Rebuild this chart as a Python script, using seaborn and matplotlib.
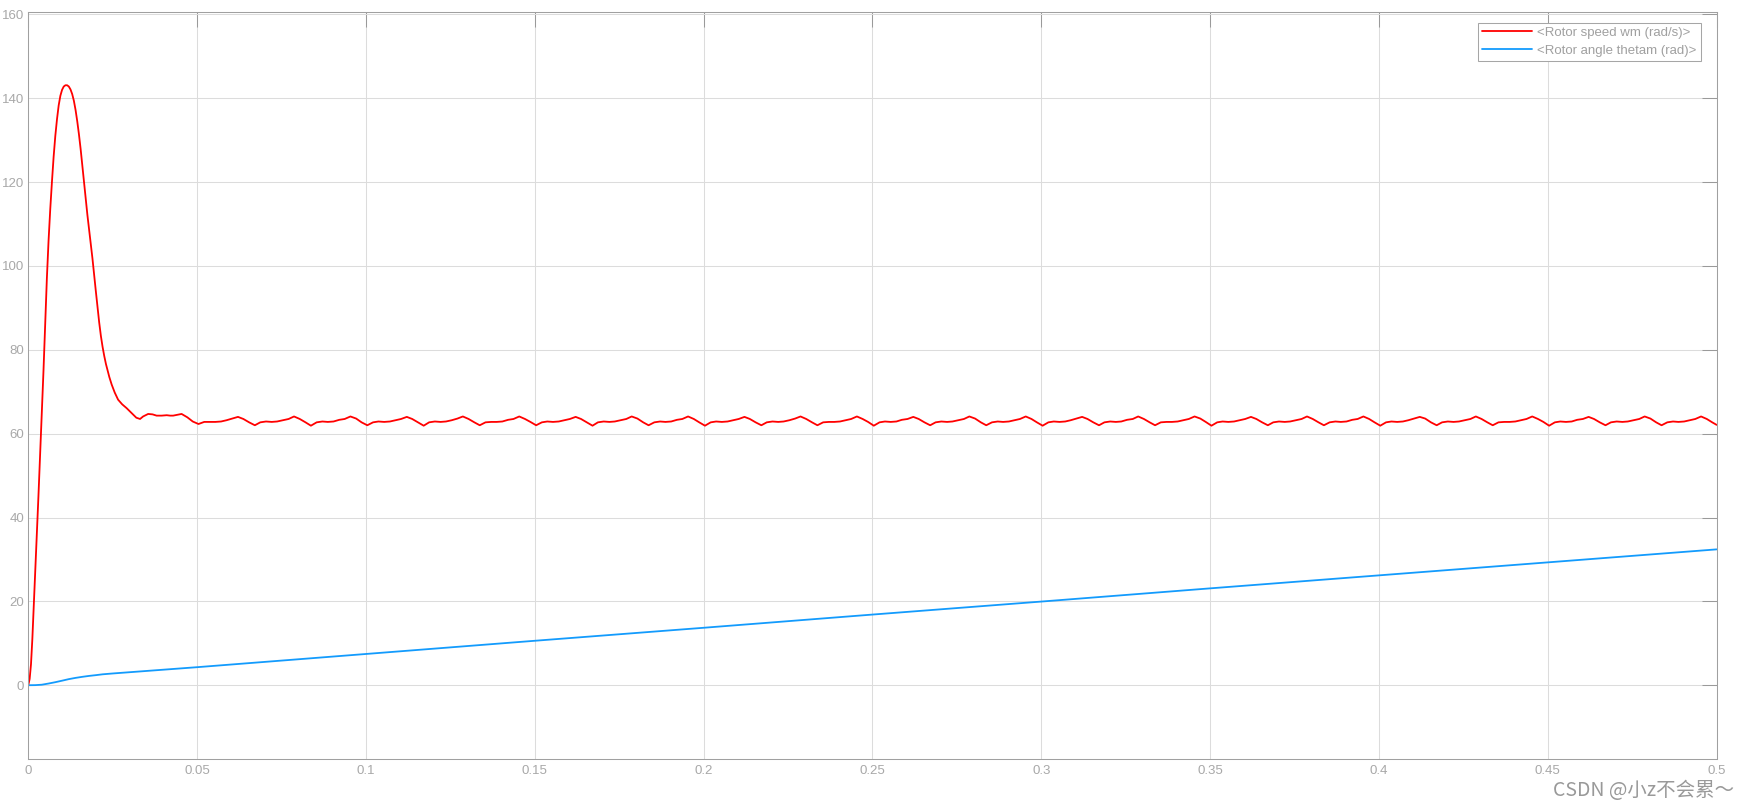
import matplotlib
matplotlib.use("Agg")
import matplotlib.pyplot as plt
import seaborn as sns
import pandas as pd

# rotor speed, start-up transient (time in ms, speed in rad/s)
t_start_ms = [0, 0.4, 0.8, 1.2, 1.6, 2.0, 2.5, 3.0, 3.5, 4.0, 4.5, 5.0, 5.5, 6.0, 6.5,
              7.0, 7.5, 8.0, 8.5, 9.0, 9.5, 10.0, 10.5, 11.0, 11.5, 12.0, 12.5, 13.0,
              13.5, 14.0, 14.5, 15.0, 15.5, 16.0, 16.5, 17.0, 17.5, 18.0, 18.5, 19.0,
              19.5, 20.0, 20.5, 21.0, 21.5, 22.0, 22.5, 23.0, 23.5, 24.0, 24.7, 25.6,
              26.6, 27.8, 29.1, 30.1, 31.1, 32.0, 33.1, 34.0, 35.5, 36.8, 38.0, 39.5,
              41.0, 42.0, 42.9, 44.2]
w_start = [0, 1.5, 5, 11, 18.5, 26, 35, 45, 55, 65, 75, 86, 97, 106, 113.5,
           120, 126, 131, 135, 138.3, 140.6, 142.0, 142.8, 143.1, 143.1, 142.8, 142.1, 141.0,
           139.4, 137.2, 134.5, 131.4, 127.9, 124.0, 120.0, 116.0, 112.2, 108.8, 105.6, 101.8,
           97.8, 94.0, 90.3, 86.5, 83.3, 80.7, 78.5, 76.6, 75.0, 73.5, 71.7, 69.8,
           68.1, 67.0, 66.1, 65.3, 64.5, 63.8, 63.5, 64.1, 64.7, 64.6, 64.3, 64.3,
           64.4, 64.3, 64.3, 64.5]

# rotor speed, steady state with ripple (one row = one ripple period)
t_ripple_ms = [
    45.4, 47.1, 48.7, 50.4, 52.1, 53.7, 55.4, 57.1, 58.7, 60.4,
    62.1, 63.7, 65.4, 67.1, 68.7, 70.4, 72.1, 73.7, 75.4, 77.1,
    78.7, 80.4, 82.1, 83.7, 85.4, 87.1, 88.7, 90.4, 92.1, 93.7,
    95.4, 97.1, 98.7, 100.4, 102.1, 103.7, 105.4, 107.1, 108.7, 110.4,
    112.1, 113.7, 115.4, 117.1, 118.7, 120.4, 122.1, 123.7, 125.4, 127.1,
    128.7, 130.4, 132.1, 133.7, 135.4, 137.1, 138.7, 140.4, 142.1, 143.7,
    145.4, 147.1, 148.7, 150.4, 152.1, 153.7, 155.4, 157.1, 158.7, 160.4,
    162.1, 163.7, 165.4, 167.1, 168.7, 170.4, 172.1, 173.7, 175.4, 177.1,
    178.7, 180.4, 182.1, 183.7, 185.4, 187.1, 188.7, 190.4, 192.1, 193.7,
    195.4, 197.1, 198.7, 200.4, 202.1, 203.7, 205.4, 207.1, 208.7, 210.4,
    212.1, 213.7, 215.4, 217.1, 218.7, 220.4, 222.1, 223.7, 225.4, 227.1,
    228.7, 230.4, 232.1, 233.7, 235.4, 237.1, 238.7, 240.4, 242.1, 243.7,
    245.4, 247.1, 248.7, 250.4, 252.1, 253.7, 255.4, 257.1, 258.7, 260.4,
    262.1, 263.7, 265.4, 267.1, 268.7, 270.4, 272.1, 273.7, 275.4, 277.1,
    278.7, 280.4, 282.1, 283.7, 285.4, 287.1, 288.7, 290.4, 292.1, 293.7,
    295.4, 297.1, 298.7, 300.4, 302.1, 303.7, 305.4, 307.1, 308.7, 310.4,
    312.1, 313.7, 315.4, 317.1, 318.7, 320.4, 322.1, 323.7, 325.4, 327.1,
    328.7, 330.4, 332.1, 333.7, 335.4, 337.1, 338.7, 340.4, 342.1, 343.7,
    345.4, 347.1, 348.7, 350.4, 352.1, 353.7, 355.4, 357.1, 358.7, 360.4,
    362.1, 363.7, 365.4, 367.1, 368.7, 370.4, 372.1, 373.7, 375.4, 377.1,
    378.7, 380.4, 382.1, 383.7, 385.4, 387.1, 388.7, 390.4, 392.1, 393.7,
    395.4, 397.1, 398.7, 400.4, 402.1, 403.7, 405.4, 407.1, 408.7, 410.4,
    412.1, 413.7, 415.4, 417.1, 418.7, 420.4, 422.1, 423.7, 425.4, 427.1,
    428.7, 430.4, 432.1, 433.7, 435.4, 437.1, 438.7, 440.4, 442.1, 443.7,
    445.4, 447.1, 448.7, 450.4, 452.1, 453.7, 455.4, 457.1, 458.7, 460.4,
    462.1, 463.7, 465.4, 467.1, 468.7, 470.4, 472.1, 473.7, 475.4, 477.1,
    478.7, 480.4, 482.1, 483.7, 485.4, 487.1, 488.7, 490.4, 492.1, 493.7,
    495.4, 497.1, 498.7, 500.0]
w_ripple = [
    64.7, 63.9, 62.9, 62.3, 62.8, 62.8, 62.8, 62.9, 63.2, 63.6,
    64.0, 63.5, 62.7, 62.0, 62.7, 62.9, 62.8, 62.9, 63.2, 63.5,
    64.1, 63.5, 62.7, 61.9, 62.7, 62.9, 62.8, 62.9, 63.3, 63.5,
    64.1, 63.6, 62.7, 62.0, 62.7, 62.9, 62.8, 62.9, 63.2, 63.5,
    64.0, 63.5, 62.7, 61.9, 62.7, 62.9, 62.8, 62.9, 63.2, 63.6,
    64.1, 63.5, 62.7, 62.0, 62.7, 62.8, 62.8, 62.9, 63.3, 63.5,
    64.1, 63.5, 62.8, 62.0, 62.7, 62.9, 62.8, 62.9, 63.2, 63.5,
    64.0, 63.5, 62.7, 61.9, 62.7, 62.9, 62.8, 62.9, 63.2, 63.5,
    64.1, 63.6, 62.7, 62.0, 62.7, 62.9, 62.8, 62.9, 63.3, 63.5,
    64.1, 63.5, 62.7, 61.9, 62.7, 62.9, 62.8, 62.9, 63.2, 63.5,
    64.0, 63.5, 62.7, 62.0, 62.7, 62.9, 62.8, 62.9, 63.2, 63.6,
    64.1, 63.5, 62.7, 62.0, 62.7, 62.8, 62.8, 62.9, 63.2, 63.5,
    64.1, 63.5, 62.8, 61.9, 62.7, 62.9, 62.8, 62.9, 63.3, 63.5,
    64.0, 63.5, 62.7, 62.0, 62.7, 62.9, 62.8, 62.9, 63.2, 63.5,
    64.1, 63.6, 62.7, 62.0, 62.7, 62.9, 62.8, 62.9, 63.2, 63.5,
    64.1, 63.5, 62.7, 61.9, 62.7, 62.9, 62.8, 62.9, 63.2, 63.6,
    64.0, 63.5, 62.7, 62.0, 62.7, 62.9, 62.8, 62.9, 63.3, 63.5,
    64.1, 63.5, 62.7, 62.0, 62.7, 62.8, 62.8, 62.9, 63.2, 63.5,
    64.1, 63.6, 62.8, 61.9, 62.7, 62.9, 62.8, 62.9, 63.2, 63.5,
    64.0, 63.5, 62.7, 62.0, 62.7, 62.9, 62.8, 62.9, 63.2, 63.5,
    64.1, 63.5, 62.7, 62.0, 62.7, 62.9, 62.8, 62.9, 63.3, 63.5,
    64.1, 63.5, 62.7, 61.9, 62.7, 62.9, 62.8, 62.9, 63.2, 63.6,
    64.0, 63.6, 62.7, 62.0, 62.7, 62.9, 62.8, 62.9, 63.2, 63.5,
    64.1, 63.5, 62.7, 62.0, 62.7, 62.8, 62.8, 62.9, 63.2, 63.5,
    64.1, 63.5, 62.8, 61.9, 62.7, 62.9, 62.8, 62.9, 63.3, 63.5,
    64.0, 63.5, 62.7, 62.0, 62.7, 62.9, 62.8, 62.9, 63.2, 63.5,
    64.1, 63.6, 62.7, 62.0, 62.7, 62.9, 62.8, 62.9, 63.2, 63.5,
    64.1, 63.5, 62.7, 62.1]

# rotor angle (time in ms, angle in rad)
t_theta_ms = [0, 2, 4, 6, 8, 10, 12, 14, 16, 18, 20, 22, 25, 30, 35, 40, 50,
              100, 150, 200, 250, 300, 350, 400, 450, 500]
theta = [0, 0.02, 0.12, 0.4, 0.72, 1.08, 1.45, 1.75, 2.0, 2.22, 2.4, 2.6, 2.8,
         3.1, 3.4, 3.7, 4.3, 7.45, 10.6, 13.7, 16.85, 19.95, 23.1, 26.2, 29.3, 32.4]

x_ticks = [0, 0.05, 0.1, 0.15, 0.2, 0.25, 0.3, 0.35, 0.4, 0.45, 0.5]
x_tick_labels = ["0", "0.05", "0.1", "0.15", "0.2", "0.25", "0.3", "0.35", "0.4", "0.45", "0.5"]
y_ticks = [0, 20, 40, 60, 80, 100, 120, 140, 160]

speed_label = "<Rotor speed wm (rad/s)>"
angle_label = "<Rotor angle thetam (rad)>"

sns.set_style("white")
plt.rcParams["font.family"] = ["Liberation Sans", "DejaVu Sans"]

df_speed = pd.DataFrame({"t": [v / 1000 for v in t_start_ms + t_ripple_ms],
                         "w": w_start + w_ripple})
df_theta = pd.DataFrame({"t": [v / 1000 for v in t_theta_ms], "theta": theta})

fig = plt.figure(figsize=(17.4, 8.06), dpi=100)
ax = fig.add_axes([0.01626, 0.05831, 0.97029, 0.92643])

sns.lineplot(data=df_speed, x="t", y="w", color="#ff0000", lw=1.3,
             estimator=None, sort=False, label=speed_label, ax=ax)
sns.lineplot(data=df_theta, x="t", y="theta", color="#139bfd", lw=1.3,
             estimator=None, sort=False, label=angle_label, ax=ax)

ax.set_xlim(0, 0.5)
ax.set_ylim(-17.6, 160.5)
ax.set_xticks(x_ticks)
ax.set_xticklabels(x_tick_labels)
ax.set_yticks(y_ticks)
ax.set_xlabel("")
ax.set_ylabel("")

ax.grid(True, color="#dcdcdc", lw=0.75)
ax.set_axisbelow(True)
for sp in ax.spines.values():
    sp.set_color("#a0a0a0")
    sp.set_linewidth(0.75)
ax.tick_params(direction="in", length=10.8, width=0.75, color="#9a9a9a",
               labelcolor="#a8a8a8", labelsize=9.5, top=True, right=True)
ax.tick_params(axis="x", pad=4)
ax.tick_params(axis="y", pad=3)

leg = ax.legend(loc="upper right", bbox_to_anchor=(0.9905, 0.9861), borderaxespad=0,
                fontsize=9.5, handlelength=3.8, handletextpad=0.4, borderpad=0.3,
                labelspacing=0.45, fancybox=False, framealpha=1, labelcolor="#a0a0a0")
leg.get_frame().set_edgecolor("#a6a6a6")
leg.get_frame().set_linewidth(0.75)

# blog watermark under the x axis
fig.text(1734 / 1740, 1 - 790 / 806, "CSDN @小z不会累～", ha="right", va="center",
         fontsize=14, color="#999999", family=["Noto Sans CJK SC", "DejaVu Sans"])

fig.savefig("out.png", dpi=100)
